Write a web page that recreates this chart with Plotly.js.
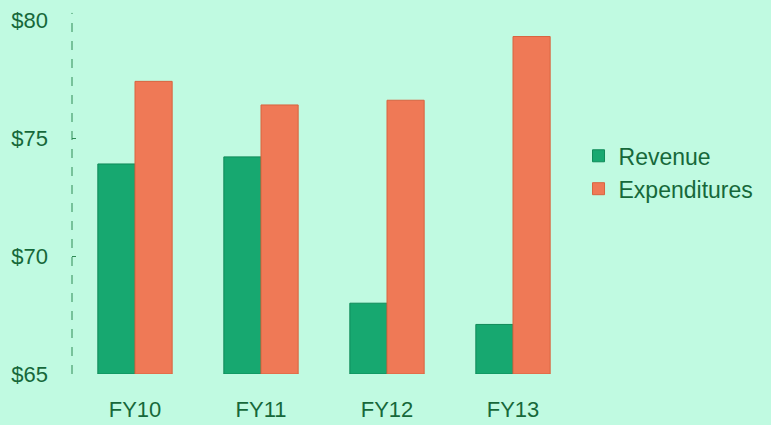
<!DOCTYPE html>
<html>
<head>
<meta charset="utf-8">
<script src="https://cdn.plot.ly/plotly-3.0.1.min.js"></script>
<style>html,body{margin:0;padding:0;background:#c0fae1;}#chart{width:771px;height:425px;}</style>
</head>
<body>
<div id="chart"></div>
<script>
const categories = ["FY10", "FY11", "FY12", "FY13"];
const revenue = [73.9, 74.2, 68.0, 67.1];
const expenditures = [77.4, 76.4, 76.6, 79.3];
const yTickValues = [65, 70, 75, 80];
const yTickLabels = ["$65", "$70", "$75", "$80"];
const baseValue = 65;

const textColor = "#16683a";
const traces = [
  {type: "bar", name: "Revenue", x: categories, y: revenue.map(v => v - baseValue), base: baseValue,
   marker: {color: "#17a870", line: {color: "#0f8a58", width: 1}}},
  {type: "bar", name: "Expenditures", x: categories, y: expenditures.map(v => v - baseValue), base: baseValue,
   marker: {color: "#ef7956", line: {color: "#d8643f", width: 1}}}
];

const layout = {
  width: 771, height: 425,
  margin: {l: 72, r: 195, t: 20, b: 51},
  paper_bgcolor: "#c0fae1", plot_bgcolor: "#c0fae1",
  font: {family: "Liberation Sans, Arial, sans-serif", size: 22, color: textColor},
  barmode: "group", bargap: 0.41, bargroupgap: 0,
  showlegend: true,
  legend: {x: 1.005, y: 0.677, xanchor: "left", yanchor: "top", font: {size: 23, color: textColor},
           bgcolor: "rgba(0,0,0,0)", itemwidth: 30},
  xaxis: {showline: false, ticks: "", showgrid: false, zeroline: false,
          ticklabelstandoff: 20, tickfont: {size: 22, color: textColor}},
  yaxis: {range: [65, 80], tickvals: yTickValues, ticktext: yTickLabels, showgrid: false, zeroline: false,
          showline: false, ticks: "inside", ticklen: 4, tickcolor: "#2e8a55",
          ticklabelstandoff: 23, tickfont: {size: 22, color: textColor}},
  shapes: [
    {type: "line", xref: "paper", yref: "paper", x0: 0, x1: 0, y0: 0, y1: 1.02,
     line: {color: "#2e8a55", width: 1, dash: "dash"}}
  ]
};
Plotly.newPlot("chart", traces, layout, {displayModeBar: false, staticPlot: true});
</script>
</body>
</html>
